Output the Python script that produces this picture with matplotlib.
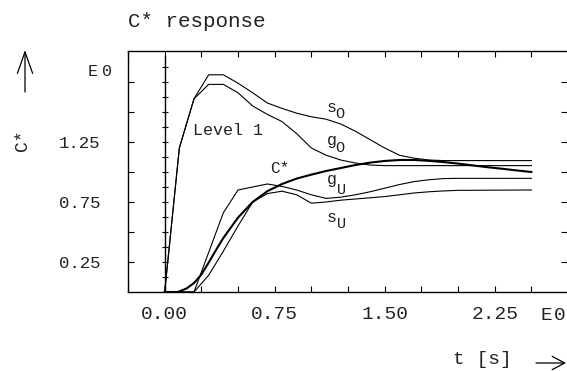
import matplotlib
matplotlib.use("Agg")
import matplotlib.pyplot as plt
import numpy as np

# ---------------- data ----------------
t_so = [0, 0.1, 0.2, 0.3, 0.4, 0.5, 0.6, 0.7, 0.8, 0.9, 1.0, 1.1, 1.2, 1.3, 1.4, 1.5, 1.6, 1.7, 1.8, 1.9, 2.5]
s_O = [0, 1.20, 1.61, 1.81, 1.81, 1.74, 1.66, 1.575, 1.53, 1.49, 1.46, 1.44, 1.40, 1.34, 1.27, 1.20, 1.14, 1.115, 1.10, 1.095, 1.095]

t_go = [0, 0.1, 0.2, 0.3, 0.4, 0.5, 0.6, 0.7, 0.8, 0.9, 1.0, 1.1, 1.2, 1.3, 1.4, 1.5, 2.5]
g_O = [0, 1.20, 1.61, 1.73, 1.73, 1.66, 1.55, 1.48, 1.42, 1.32, 1.20, 1.14, 1.10, 1.075, 1.058, 1.053, 1.053]

t_c = [0, 0.09, 0.15, 0.2, 0.25, 0.3, 0.35, 0.4, 0.5, 0.6, 0.7, 0.8, 0.9, 1.0, 1.1, 1.2, 1.3, 1.4, 1.5, 1.6, 1.7, 1.8, 1.9, 2.0, 2.1, 2.2, 2.3, 2.4, 2.5]
C_star = [0, 0, 0.03, 0.075, 0.145, 0.245, 0.35, 0.45, 0.62, 0.75, 0.84, 0.90, 0.945, 0.978, 1.008, 1.033, 1.058, 1.078, 1.092, 1.10, 1.10, 1.093, 1.083, 1.07, 1.055, 1.04, 1.027, 1.013, 1.0]

t_gu = [0, 0.2, 0.3, 0.4, 0.5, 0.6, 0.7, 0.8, 0.9, 1.0, 1.1, 1.2, 1.3, 1.4, 1.5, 1.6, 1.7, 1.8, 1.9, 2.0, 2.5]
g_U = [0, 0, 0.33, 0.66, 0.85, 0.875, 0.90, 0.88, 0.85, 0.81, 0.78, 0.79, 0.81, 0.835, 0.865, 0.895, 0.92, 0.935, 0.945, 0.947, 0.947]

t_su = [0, 0.2, 0.3, 0.4, 0.5, 0.6, 0.7, 0.8, 0.9, 1.0, 1.1, 1.2, 1.3, 1.4, 1.5, 1.6, 1.7, 1.8, 1.9, 2.0, 2.5]
s_U = [0, 0, 0.14, 0.34, 0.55, 0.75, 0.82, 0.84, 0.81, 0.74, 0.75, 0.765, 0.775, 0.785, 0.795, 0.81, 0.825, 0.835, 0.842, 0.847, 0.85]

x_ticks = [-0.25, 0, 0.25, 0.5, 0.75, 1.0, 1.25, 1.5, 1.75, 2.0, 2.25, 2.5]
x_ticklabels = ["", "0.00", "", "", "0.75", "", "", "1.50", "", "", "2.25", ""]
y_ticks = [0.25, 0.5, 0.75, 1.0, 1.25, 1.5, 1.75]
y_ticklabels = ["0.25", "", "0.75", "", "1.25", "", ""]
zero_line_ticks = [0.125 * i for i in range(1, 16)]

# ---------------- figure ----------------
W, H = 567, 371
FONT = "Liberation Mono"
plt.rcParams["font.family"] = FONT
fig = plt.figure(figsize=(W / 100, H / 100), dpi=100)

def fx(px):
    return px / W

def fy(py):
    return 1 - py / H

ax = fig.add_axes([fx(128), fy(292), (W - 128) / W, (292 - 51.5) / H])
ax.set_xlim(-0.25, 2.743)
ax.set_ylim(0, 2.004)

lw = 0.8
ax.plot(t_so, s_O, color="black", lw=lw)
ax.plot(t_go, g_O, color="black", lw=lw)
ax.plot(t_gu, g_U, color="black", lw=lw)
ax.plot(t_su, s_U, color="black", lw=lw)
ax.plot(t_c, C_star, color="black", lw=1.5, solid_joinstyle="round")

# zero line with small ticks
ax.plot([0, 0], [0, 1.97], color="black", lw=1.0)
ax.plot([0] * len(zero_line_ticks), zero_line_ticks, ls="none", marker="_",
        markersize=5, markeredgewidth=0.8, color="black")

# spines / ticks
ax.spines["right"].set_visible(False)
for s in ["left", "top", "bottom"]:
    ax.spines[s].set_linewidth(1.0)
    ax.spines[s].set_color("black")
ax.set_xticks(x_ticks)
ax.set_xticklabels(x_ticklabels, fontsize=14, color="#222222")
ax.set_yticks(y_ticks)
ax.set_yticklabels(y_ticklabels, fontsize=12.5, color="#222222")
ax.tick_params(direction="in", length=4, width=0.8, top=True, right=True,
               labeltop=False, labelright=False)
ax.tick_params(axis="x", pad=10)
ax.tick_params(axis="y", pad=20)

# curve labels
tc = "#222222"
ax.text(0.19, 1.308, "Level 1", fontsize=12, color=tc, ha="left", va="baseline")
ax.text(0.716, 0.99, "C*", fontsize=11.5, color=tc, ha="left", va="baseline")
lab = [("s", "O", 1.105, 1.50, 1.166, 1.45),
       ("g", "O", 1.105, 1.225, 1.166, 1.167),
       ("g", "U", 1.105, 0.90, 1.173, 0.817),
       ("s", "U", 1.105, 0.583, 1.173, 0.533)]
for m, sub, x1, y1, x2, y2 in lab:
    ax.text(x1, y1, m, fontsize=12, color=tc, ha="left", va="baseline")
    ax.text(x2, y2, sub, fontsize=11, color=tc, ha="left", va="baseline")

# figure texts
fig.text(fx(128), fy(27), "C* response", fontsize=15, color=tc, ha="left", va="baseline")
fig.text(fx(88), fy(71), "E", fontsize=12, color=tc, ha="left", va="center")
fig.text(fx(102), fy(71), "0", fontsize=12, color=tc, ha="left", va="center")
fig.text(fx(540), fy(315), "E", fontsize=14, color=tc, ha="left", va="center")
fig.text(fx(554), fy(315), "0", fontsize=14, color=tc, ha="left", va="center")
fig.text(fx(23), fy(140), "C*", fontsize=13, color=tc, ha="center", va="center", rotation=90)
fig.text(fx(482), fy(360), "t [s]", fontsize=14, color=tc, ha="center", va="center")

arrow_y = dict(arrowstyle="->,head_length=1.55,head_width=0.55", color="black", lw=0.9,
               shrinkA=0, shrinkB=0)
arrow_x = dict(arrowstyle="->,head_length=0.9,head_width=0.48", color="black", lw=0.9,
               shrinkA=0, shrinkB=0)
ax.annotate("", xy=(fx(25), fy(50)), xytext=(fx(25), fy(92)),
            xycoords="figure fraction", textcoords="figure fraction", arrowprops=arrow_y,
            annotation_clip=False)
ax.annotate("", xy=(fx(566), fy(363)), xytext=(fx(536), fy(363)),
            xycoords="figure fraction", textcoords="figure fraction", arrowprops=arrow_x,
            annotation_clip=False)

fig.savefig("out.png", dpi=100)
